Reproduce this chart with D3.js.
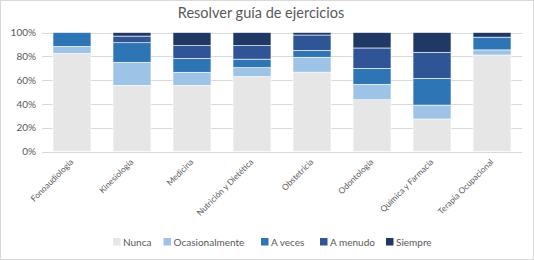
<!DOCTYPE html>
<html><head><meta charset="utf-8">
<script src="https://cdn.jsdelivr.net/npm/d3@7"></script>
<style>
body{margin:0;background:#fff;}
svg{display:block;font-family:Lato,"Open Sans",sans-serif;}
</style></head>
<body>
<svg id="chart" width="534" height="260"></svg>
<script>
const categories = ["Fonoaudiología","Kinesiología","Medicina","Nutrición y Dietética","Obstetricia","Odontología","Química y Farmacia","Terapia Ocupacional"];
const seriesNames = ["Nunca","Ocasionalmente","A veces","A menudo","Siempre"];
const nunca          = [82.4, 55.6, 55.6, 63.0, 66.7, 43.5, 27.3, 81.1];
const ocasionalmente = [5.9, 19.4, 11.0, 7.5, 12.5, 13.0, 11.7, 4.3];
const aVeces         = [11.7, 16.4, 11.7, 7.1, 5.8, 13.4, 22.5, 10.7];
const aMenudo        = [0.0, 5.6, 10.7, 11.4, 12.9, 17.1, 21.9, 0.0];
const siempre        = [0.0, 3.0, 11.0, 11.0, 2.1, 13.0, 16.6, 3.9];
const yTicks = [0, 20, 40, 60, 80, 100];
const colors = ["#E7E6E6","#9DC3E6","#2E75B6","#2F5597","#1F3864"];

const svg = d3.select("#chart");
const W = 534, H = 260;
svg.append("rect").attr("x",0.5).attr("y",0.5).attr("width",W-1).attr("height",H-1)
  .attr("fill","#fff").attr("stroke","#D9D9D9");

const m = {left:42, right:12, top:32.5, bottom:108.5};
const x = d3.scaleBand().domain(categories).range([m.left, W-m.right]).paddingInner(0.367).paddingOuter(0.183);
const y = d3.scaleLinear().domain([0,100]).range([H-m.bottom, m.top]);

// title
svg.append("text").attr("x",261).attr("y",17.5).attr("text-anchor","middle")
  .attr("font-size",14.5).attr("fill","#595959").text("Resolver guía de ejercicios");

// gridlines
svg.append("g").selectAll("line").data(yTicks).join("line")
  .attr("x1",m.left).attr("x2",W-m.right)
  .attr("y1",d=>Math.round(y(d))+0.5).attr("y2",d=>Math.round(y(d))+0.5)
  .attr("stroke","#D9D9D9").attr("stroke-width",1);

// y axis labels
const yAxis = d3.axisLeft(y).tickValues(yTicks).tickFormat(d=>d+"%").tickSize(0).tickPadding(6);
const gy = svg.append("g").attr("transform",`translate(${m.left},0)`).call(yAxis);
gy.select(".domain").remove();
gy.selectAll("text").attr("font-size",10).attr("fill","#595959").attr("font-family","Lato,sans-serif");

// data
const rows = categories.map((c,i)=>({cat:c, "Nunca":nunca[i], "Ocasionalmente":ocasionalmente[i], "A veces":aVeces[i], "A menudo":aMenudo[i], "Siempre":siempre[i]}));
rows.forEach(r=>{ const t = seriesNames.reduce((s,k)=>s+r[k],0); seriesNames.forEach(k=>r[k]=r[k]/t*100); });
const stacked = d3.stack().keys(seriesNames)(rows);

svg.append("g").selectAll("g").data(stacked).join("g")
  .attr("fill",(d,i)=>colors[i])
  .selectAll("rect").data(d=>d).join("rect")
  .attr("x",d=>x(d.data.cat)).attr("width",x.bandwidth())
  .attr("y",d=>y(d[1])).attr("height",d=>Math.max(0,y(d[0])-y(d[1])))
  .attr("stroke","#fff").attr("stroke-width",0.6);

// x labels
svg.append("g").selectAll("text").data(categories).join("text")
  .attr("transform",d=>`translate(${x(d)+x.bandwidth()/2+2},${H-m.bottom+11}) rotate(-45)`)
  .attr("text-anchor","end").attr("font-size",8.4).attr("fill","#595959").text(d=>d);

// legend
const lg = svg.append("g").attr("transform","translate(0,242)");
const legendX = [113, 163.5, 261, 320, 386];
seriesNames.forEach((s,i)=>{
  lg.append("rect").attr("x",legendX[i]).attr("y",-4).attr("width",7.5).attr("height",7.5).attr("fill",colors[i]);
  lg.append("text").attr("x",legendX[i]+10).attr("y",3.5).attr("font-size",10).attr("fill","#595959").text(s);
});
</script>
</body></html>
